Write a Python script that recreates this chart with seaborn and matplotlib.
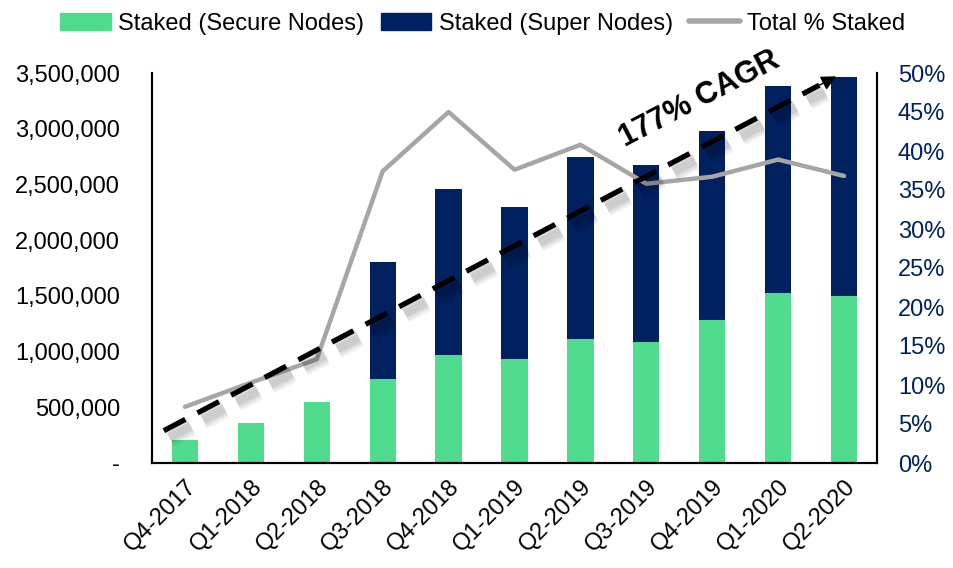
import numpy as np
import matplotlib.pyplot as plt
import matplotlib.patheffects as pe
import seaborn as sns
from matplotlib import patches
from matplotlib.lines import Line2D
from matplotlib.ticker import FuncFormatter, MultipleLocator

# ---------------------------------------------------
quarters = ["Q4-2017", "Q1-2018", "Q2-2018", "Q3-2018", "Q4-2018", "Q1-2019",
            "Q2-2019", "Q3-2019", "Q4-2019", "Q1-2020", "Q2-2020"]
secure_nodes = [204000, 356000, 551000, 754000, 970000, 931000,
                1111000, 1084000, 1281000, 1530000, 1503000]
super_nodes = [0, 0, 0, 1051000, 1488000, 1365000,
               1637000, 1589000, 1695000, 1852000, 1958000]
pct_staked = [0.072, 0.103, 0.133, 0.374, 0.450, 0.376,
              0.408, 0.358, 0.367, 0.389, 0.368]
cagr_label = "177% CAGR"
# trend arrow ends (x in category index, y in staked units)
cagr_start = (-0.32, 290000)
cagr_end = (9.88, 3470000)

GREEN = "#50DC8C"
NAVY = "#002060"
GRAY = "#A6A6A6"

sns.set_style("white")
plt.rcParams['font.family'] = ['Liberation Sans', 'DejaVu Sans']
plt.rcParams['text.color'] = 'black'
plt.rcParams['xtick.color'] = 'black'
plt.rcParams['ytick.color'] = 'black'

totals = [s + n for s, n in zip(secure_nodes, super_nodes)]

# ---------------------------------------------------
fig = plt.figure(figsize=(9.54, 5.68), dpi=100)
ax = fig.add_axes([152 / 954, 105 / 568, 725 / 954, 390 / 568])

sns.barplot(x=quarters, y=totals, color=NAVY, saturation=1, width=0.4,
            linewidth=0, ax=ax)
sns.barplot(x=quarters, y=secure_nodes, color=GREEN, saturation=1, width=0.4,
            linewidth=0, ax=ax)

ax.set_xlim(-0.5, 10.5)
ax.set_ylim(0, 3500000)
ax.yaxis.set_major_locator(MultipleLocator(500000))
ax.yaxis.set_major_formatter(FuncFormatter(lambda v, p: "-" if v == 0 else f"{v:,.0f}"))
ax.tick_params(axis="y", length=0, pad=23, labelsize=17, labelcolor="black")
ax.tick_params(axis="x", length=0, pad=9, labelsize=17, labelcolor="black")
for lbl in ax.get_xticklabels():
    lbl.set_rotation(45)
    lbl.set_ha("right")
    lbl.set_rotation_mode("anchor")

# ----------------------------------------------
ax2 = ax.twinx()
sns.lineplot(x=np.arange(len(quarters)), y=pct_staked, color=GRAY,
             linewidth=3.2, ax=ax2)
ax2.set_ylim(0, 0.5)
ax2.yaxis.set_major_locator(MultipleLocator(0.05))
ax2.yaxis.set_major_formatter(FuncFormatter(lambda v, p: f"{v * 100:.0f}%"))
ax2.tick_params(axis="y", length=0, pad=15, labelsize=17, labelcolor=NAVY)

for a in (ax, ax2):
    a.spines["top"].set_visible(False)
    for s in ("left", "bottom", "right"):
        a.spines[s].set_color("black")
        a.spines[s].set_linewidth(1.5)
    a.set_xlabel("")
    a.set_ylabel("")
    a.grid(False)

# ----------------------------------------------
# dashed CAGR trend arrow with soft blurred shadow
frac = 0.975
stop = (cagr_start[0] + (cagr_end[0] - cagr_start[0]) * frac,
        cagr_start[1] + (cagr_end[1] - cagr_start[1]) * frac)
shadow = [pe.SimpleLineShadow(offset=(4, -5), shadow_color="black",
                              alpha=0.05, linewidth=w) for w in (14, 11, 8, 6)]
ax2.plot([cagr_start[0], stop[0]], [cagr_start[1], stop[1]],
         transform=ax.transData, color="black", linewidth=3.8,
         linestyle=(0, (4.6, 2.6)), clip_on=False, zorder=5,
         path_effects=shadow + [pe.Normal()])
ax2.annotate("", xy=cagr_end, xytext=stop, xycoords=ax.transData,
             textcoords=ax.transData,
             arrowprops=dict(arrowstyle="-|>,head_length=0.9,head_width=0.45",
                             color="black", lw=1, shrinkA=0, shrinkB=0),
             zorder=6, annotation_clip=False)
ax2.text(7.81, 3262000, cagr_label, transform=ax.transData, rotation=27.5,
         ha="center", va="center", fontsize=22, fontweight="bold",
         color="black", zorder=6)

# ----------------------------------------------
handles = [patches.Patch(color=GREEN, label="Staked (Secure Nodes)"),
           patches.Patch(color=NAVY, label="Staked (Super Nodes)"),
           Line2D([0], [0], color=GRAY, linewidth=4, label="Total % Staked")]
fig.legend(handles=handles, loc="upper center", bbox_to_anchor=(0.506, 1.015),
           ncol=3, frameon=False, fontsize=17, handlelength=2.15,
           handletextpad=0.3, columnspacing=0.7, labelcolor="black")

fig.savefig("out.png", dpi=100)
